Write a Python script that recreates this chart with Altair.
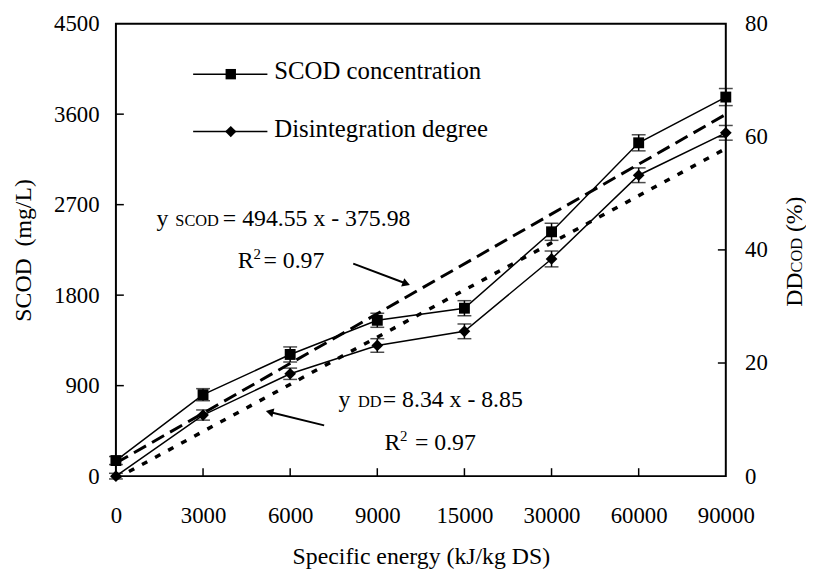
import altair as alt
import pandas as pd

FONT = "Liberation Serif"
FS = 24

# ---- data ----
x_labels = ["0", "3000", "6000", "9000", "15000", "30000", "60000", "90000"]
scod = [155, 810, 1210, 1550, 1670, 2430, 3315, 3770]
scod_err = [40, 60, 75, 70, 75, 85, 80, 85]
dd = [0, 10.8, 18.1, 23.1, 25.6, 38.4, 53.2, 60.7]
dd_err = [0.5, 0.9, 1.0, 1.2, 1.3, 1.4, 1.3, 1.3]
scod_ticks = [0, 900, 1800, 2700, 3600, 4500]
dd_ticks = [0, 20, 40, 60, 80]
inner_scod_ticks = [900, 1800, 2700, 3600]
inner_dd_ticks = [20, 40, 60]

df = pd.DataFrame({
    "idx": list(range(1, len(x_labels) + 1)),
    "label": x_labels,
    "scod": scod,
    "scod_err": scod_err,
    "dd": dd,
    "dd_err": dd_err,
})
df["scod_lo"] = df["scod"] - df["scod_err"]
df["scod_hi"] = df["scod"] + df["scod_err"]
df["dd_lo"] = df["dd"] - df["dd_err"]
df["dd_hi"] = df["dd"] + df["dd_err"]

W, H = 616, 457
label_expr = "[" + ",".join("'%s'" % l for l in x_labels) + "][datum.value - 1]"

x_axis = alt.Axis(values=list(range(1, len(x_labels) + 1)), labelExpr=label_expr,
                  title="Specific energy (kJ/kg DS)", labelPadding=29, titlePadding=17,
                  labelFlush=False, labelOverlap=False)
x_scale = alt.Scale(domain=[1, len(x_labels)], nice=False, zero=False)


def X(field="idx"):
    return alt.X(field, type="quantitative", scale=x_scale, axis=x_axis)


left_axis = alt.Axis(values=scod_ticks, title="SCOD\u00a0 (mg/L)", labelPadding=17,
                     titlePadding=18, orient="left", format="d")
right_axis = alt.Axis(values=dd_ticks, title=None, labelPadding=19, orient="right", format="d")
s_scale = alt.Scale(domain=[0, 4500], nice=False, zero=True)
d_scale = alt.Scale(domain=[0, 80], nice=False, zero=True)


def YS(f):
    return alt.Y(f, type="quantitative", scale=s_scale, axis=left_axis)


def YD(f):
    return alt.Y(f, type="quantitative", scale=d_scale, axis=right_axis)


base = alt.Chart(df)

# ---- SCOD group (left axis) ----
s_line = base.mark_line(color="black", strokeWidth=1.5).encode(x=X(), y=YS("scod"))
s_err = base.mark_rule(color="black", strokeWidth=1.5).encode(x=X(), y=YS("scod_lo"), y2="scod_hi")
s_cap_lo = base.mark_tick(color="black", orient="horizontal", size=14, thickness=1.5).encode(x=X(), y=YS("scod_lo"))
s_cap_hi = base.mark_tick(color="black", orient="horizontal", size=14, thickness=1.5).encode(x=X(), y=YS("scod_hi"))
s_pts = base.mark_point(shape="square", filled=True, size=121, color="black", opacity=1).encode(x=X(), y=YS("scod"))
s_trend = base.transform_regression("idx", "scod", extent=[1, len(x_labels)]).mark_line(
    color="black", strokeWidth=3, strokeDash=[14, 7]).encode(x=X(), y=YS("scod"))
s_ticks = alt.Chart(pd.DataFrame({"v": inner_scod_ticks})).mark_rule(color="black", strokeWidth=1.5).encode(
    y=YS("v"), x=alt.value(0), x2=alt.value(8))
x_ticks = alt.Chart(pd.DataFrame({"idx": list(range(2, len(x_labels)))})).mark_rule(color="black", strokeWidth=1.5).encode(
    x=X(), y=alt.value(H), y2=alt.value(H - 8))

scod_group = alt.layer(s_line, s_err, s_cap_lo, s_cap_hi, s_pts, s_trend, s_ticks, x_ticks)

# ---- DD group (right axis) ----
d_line = base.mark_line(color="black", strokeWidth=1.5).encode(x=X(), y=YD("dd"))
d_err = base.mark_rule(color="black", strokeWidth=1.5).encode(x=X(), y=YD("dd_lo"), y2="dd_hi")
d_cap_lo = base.mark_tick(color="black", orient="horizontal", size=14, thickness=1.5).encode(x=X(), y=YD("dd_lo"))
d_cap_hi = base.mark_tick(color="black", orient="horizontal", size=14, thickness=1.5).encode(x=X(), y=YD("dd_hi"))
d_pts = base.mark_point(shape="diamond", filled=True, size=140, color="black", opacity=1).encode(x=X(), y=YD("dd"))
d_trend = base.transform_regression("idx", "dd", extent=[1, len(x_labels)]).mark_line(
    color="black", strokeWidth=3.5, strokeDash=[6, 9]).encode(x=X(), y=YD("dd"))
d_ticks = alt.Chart(pd.DataFrame({"v": inner_dd_ticks})).mark_rule(color="black", strokeWidth=1.5).encode(
    y=YD("v"), x=alt.value(W), x2=alt.value(W - 8))

dd_group = alt.layer(d_line, d_err, d_cap_lo, d_cap_hi, d_pts, d_trend, d_ticks)

# ---- annotations (legend, equations, arrows, right title) ----
one = pd.DataFrame({"k": [0]})


def txt(s, x, y, size=FS, angle=None):
    kw = dict(text=s, font=FONT, fontSize=size, align="left", baseline="alphabetic", color="black")
    if angle is not None:
        kw["angle"] = angle
    return alt.Chart(one).mark_text(**kw).encode(x=alt.value(x), y=alt.value(y))


def seg(x1, y1, x2, y2, w=1.5):
    return alt.Chart(one).mark_rule(color="black", strokeWidth=w).encode(
        x=alt.value(x1), y=alt.value(y1), x2=alt.value(x2), y2=alt.value(y2))


def sym(shape, x, y, size, angle=0):
    return alt.Chart(one).mark_point(shape=shape, filled=True, size=size, color="black", opacity=1,
                                     angle=angle).encode(x=alt.value(x), y=alt.value(y))


ann = [
    # legend
    seg(78, 51, 153, 51), sym("square", 116, 51, 110), txt("SCOD concentration", 160, 56, 25),
    seg(78, 109, 153, 109), sym("diamond", 116, 109, 130), txt("Disintegration degree", 160, 114, 25),
    # SCOD equation
    txt("y", 41, 204), txt("SCOD", 60, 204, 16.5), txt("= 494.55 x - 375.98", 108, 204),
    txt("R", 123, 247), txt("2", 139, 237.5, 15), txt("= 0.97", 149, 247),
    # DD equation
    txt("y", 224.7, 387.3), txt("DD", 244.5, 387.3, 16.5), txt("= 8.34 x - 8.85", 269.5, 387.3),
    txt("R", 271.3, 430.7), txt("2", 287, 421.5, 15), txt("= 0.97", 302, 430.7),
    # arrows
    seg(239.7, 242.3, 292.3, 262.2, 2), sym("triangle-right", 293.3, 262.6, 80, 20.7),
    seg(210.3, 405.7, 156.2, 392.5, 2), sym("triangle-left", 155.2, 392.2, 80, 13.7),
    # right axis title  DD(COD) (%)
    txt("DD", 693, 286, FS, 270), txt("COD", 693, 251.3, 16.5, 270), txt("(%)", 693, 210.5, FS, 270),
]

chart = alt.layer(scod_group, dd_group, *ann).resolve_scale(y="independent").properties(
    width=W, height=H,
    autosize=alt.AutoSizeParams(type="none"),
    padding={"left": 109, "top": 13, "right": 81, "bottom": 93},
).configure_view(stroke="black", strokeWidth=2).configure_axis(
    labelFont=FONT, labelFontSize=23, labelColor="black",
    titleFont=FONT, titleFontSize=FS, titleFontWeight="normal", titleColor="black",
    grid=False, ticks=False, domain=False,
)

chart.save("out.html", embed_options={"renderer": "svg", "actions": False})
